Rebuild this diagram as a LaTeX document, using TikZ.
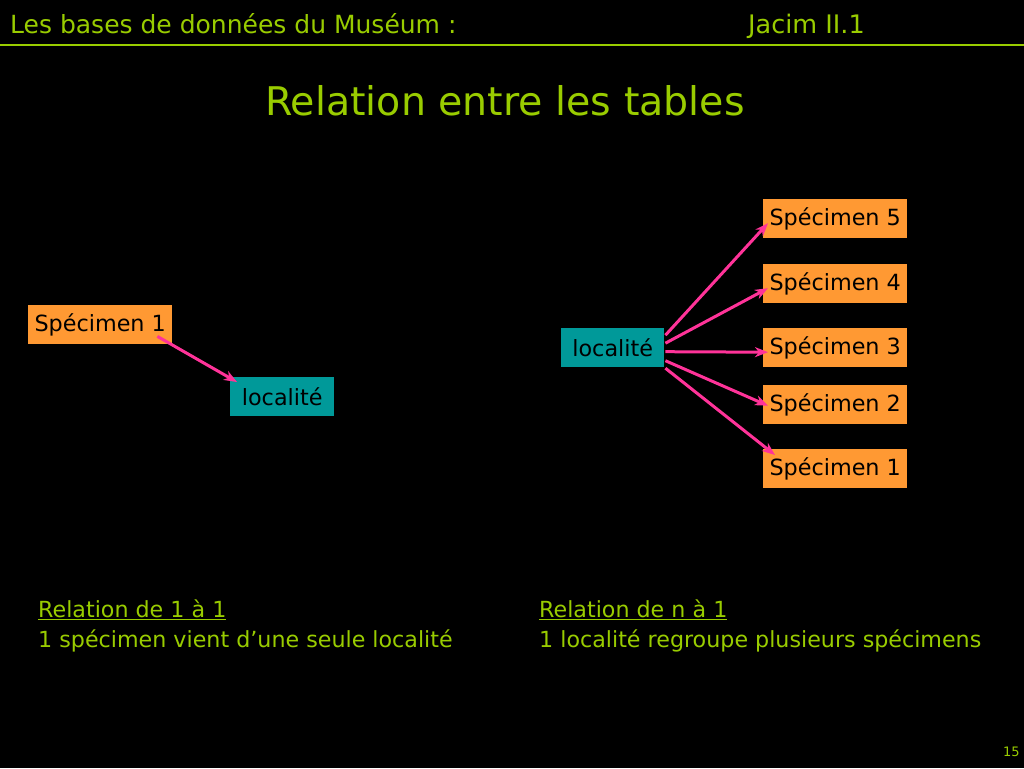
\documentclass[tikz,border=0pt]{standalone}
\usepackage{fontspec}
\setmainfont{DejaVu Sans}
\usetikzlibrary{arrows.meta,calc}
\definecolor{hdgreen}{RGB}{153,204,0}
\definecolor{boxorange}{RGB}{255,153,51}
\definecolor{boxteal}{RGB}{0,153,153}
\definecolor{arrpink}{RGB}{255,51,153}
\tikzset{
  spbox/.style={fill=boxorange, draw=none, minimum width=144pt, minimum height=39pt, inner sep=0pt, anchor=north west, text=black, font=\fontsize{22.3}{26}\selectfont},
  locbox/.style={fill=boxteal, draw=none, minimum width=104pt, minimum height=39pt, inner sep=0pt, anchor=north west, text=black, font=\fontsize{22.3}{26}\selectfont},
  link/.style={draw=arrpink, line width=3pt, -{Stealth[length=13pt,width=10pt,inset=4pt]}},
  hdtext/.style={text=hdgreen, inner sep=0pt, anchor=base west},
}
\begin{document}
\begin{tikzpicture}[x=1pt,y=-1pt]
\fill[black] (0,0) rectangle (1024,768);
\useasboundingbox (0,0) rectangle (1024,768);
% header
\node[hdtext, font=\fontsize{25}{28}\selectfont] (hdl) at (10,34) {Les bases de données du Muséum :};
\node[hdtext, font=\fontsize{25.5}{28}\selectfont] (hdr) at (748,34) {Jacim II.1};
\draw[hdgreen, line width=2.5pt] (0,45) -- (1024,45);
% title
\node[text=hdgreen, inner sep=0pt, anchor=base, font=\fontsize{39.5}{44}\selectfont] (title) at (505,115) {Relation entre les tables};
% left diagram
\node[spbox] (ls1) at (28,305) {Spécimen 1};
\node[locbox] (lloc) at (230,377) {localité};
\draw[link] ($(ls1.south east)+(-15,-8)$) -- ($(lloc.north west)+(7,5)$);
% right diagram
\node[locbox, minimum width=103pt] (rloc) at (561,328) {localité};
\node[spbox] (r5) at (763,199) {Spécimen 5};
\node[spbox] (r4) at (763,264) {Spécimen 4};
\node[spbox] (r3) at (763,328) {Spécimen 3};
\node[spbox] (r2) at (763,385) {Spécimen 2};
\node[spbox] (r1) at (763,449) {Spécimen 1};
\draw[link] ($(rloc.east)+(1,-12.5)$) -- ($(r5.west)+(5,4.5)$);
\draw[link] ($(rloc.east)+(1,-4.5)$) -- ($(r4.west)+(5,4.5)$);
\draw[link] ($(rloc.east)+(1,4)$) -- ($(r3.west)+(5,4.5)$);
\draw[link] ($(rloc.east)+(1,13)$) -- ($(r2.west)+(5,1)$);
\draw[link] ($(rloc.east)+(1,20.5)$) -- ($(r1.north west)+(12,6)$);
% bottom texts
\node[hdtext, font=\fontsize{22.2}{26}\selectfont] (l1) at (38,617) {\underline{Relation de 1 à 1}};
\node[hdtext, font=\fontsize{22.2}{26}\selectfont] (l2) at (38,647) {1 spécimen vient d’une seule localité};
\node[hdtext, font=\fontsize{22.2}{26}\selectfont] (r1t) at (539,617) {\underline{Relation de n à 1}};
\node[hdtext, font=\fontsize{22.2}{26}\selectfont] (r2t) at (539,647) {1 localité regroupe plusieurs spécimens};
% page number
\node[hdtext, font=\fontsize{13}{15}\selectfont] (pg) at (1003,756) {15};
\end{tikzpicture}
\end{document}
